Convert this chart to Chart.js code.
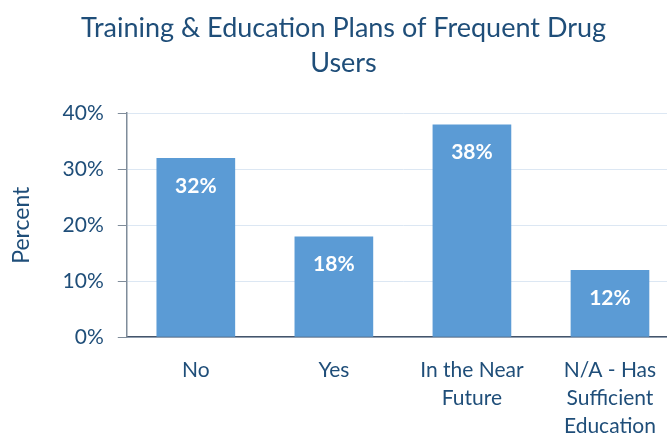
<!DOCTYPE html>
<html>
<head>
<meta charset="utf-8">
<script src="https://cdn.jsdelivr.net/npm/chart.js@4.4.1/dist/chart.umd.min.js"></script>
<style>
  html, body { margin: 0; padding: 0; background: #fff; overflow: hidden; }
  #wrap { width: 694px; height: 434px; overflow: hidden; }
</style>
</head>
<body>
<div id="wrap"><canvas id="chart" width="694" height="459"></canvas></div>
<script>
// Data
const categories = [['No'], ['Yes'], ['In the Near', 'Future'], ['N/A - Has', 'Sufficient', 'Education']];
const percents = [32, 18, 38, 12];
const yTicks = [0, 10, 20, 30, 40];

const textColor = '#1F4E79';
const fontFamily = 'Lato, "Open Sans", sans-serif';

// Draw value labels inside the bars
const barLabels = {
    id: 'barLabels',
    afterDatasetsDraw(chart) {
        const ctx = chart.ctx;
        const meta = chart.getDatasetMeta(0);
        ctx.save();
        ctx.fillStyle = '#FFFFFF';
        ctx.font = 'bold 21px ' + fontFamily;
        ctx.textAlign = 'center';
        ctx.textBaseline = 'middle';
        meta.data.forEach((bar, i) => {
            ctx.fillText(percents[i] + '%', bar.x, bar.y + 28);
        });
        ctx.restore();
    }
};

const ctx = document.getElementById('chart').getContext('2d');

const chart = new Chart(ctx, {
    type: 'bar',
    data: {
        labels: categories,
        datasets: [{
            data: percents,
            backgroundColor: '#5B9BD5',
            barPercentage: 0.57,
            categoryPercentage: 1
        }]
    },
    options: {
        responsive: false,
        animation: false,
        layout: { padding: { left: 8, right: 15, top: 11, bottom: 0 } },
        plugins: {
            legend: { display: false },
            tooltip: { enabled: false },
            title: {
                display: true,
                text: ['Training & Education Plans of Frequent Drug', 'Users'],
                color: textColor,
                font: { family: fontFamily, size: 27, weight: 'normal', lineHeight: 1.3 },
                padding: { top: 0, bottom: 32 }
            }
        },
        scales: {
            x: {
                grid: { display: false, drawTicks: false },
                border: { display: true, color: '#44546A', width: 1.5 },
                ticks: {
                    color: textColor,
                    font: { family: fontFamily, size: 21, lineHeight: 1.33 },
                    padding: 19,
                    maxRotation: 0
                }
            },
            y: {
                min: 0,
                max: 40,
                afterBuildTicks(axis) {
                    axis.ticks = yTicks.map(v => ({ value: v }));
                },
                grid: {
                    color: '#DCE7F3',
                    tickColor: '#7F8C9A',
                    tickLength: 9
                },
                border: { display: true, color: '#7F8C9A', width: 1.5 },
                ticks: {
                    color: textColor,
                    font: { family: fontFamily, size: 21 },
                    padding: 14,
                    callback: v => v + '%'
                },
                title: {
                    display: true,
                    text: 'Percent',
                    color: textColor,
                    font: { family: fontFamily, size: 23 },
                    padding: { top: 0, bottom: 13 }
                }
            }
        }
    },
    plugins: [barLabels]
});
</script>
</body>
</html>
